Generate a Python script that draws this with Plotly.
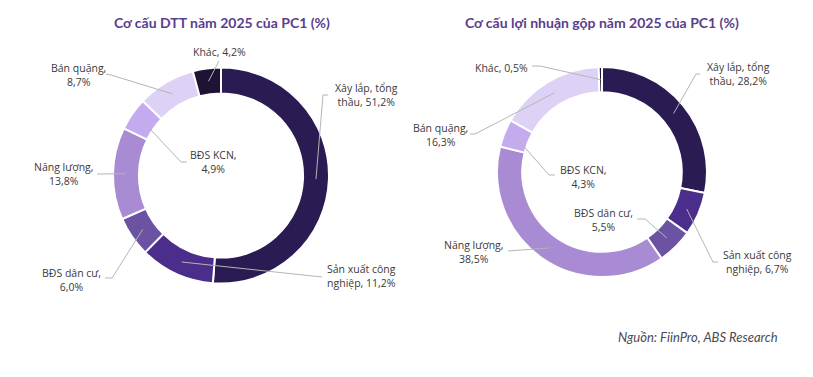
import math
import plotly.graph_objects as go

W, H = 813, 377

# ---------------- data ----------------
categories = ["Xây lắp, tổng thầu", "Sản xuất công nghiệp", "BĐS dân cư",
              "Năng lượng", "BĐS KCN", "Bán quặng", "Khác"]
revenue_share = [51.2, 11.2, 6.0, 13.8, 4.9, 8.7, 4.2]
gross_profit_share = [28.2, 6.7, 5.5, 38.5, 4.3, 16.3, 0.5]

titles = ["Cơ cấu DTT năm 2025 của PC1 (%)",
          "Cơ cấu lợi nhuận gộp năm 2025 của PC1 (%)"]
source_text = "Nguồn: FiinPro, ABS Research"

# where each label's first line ends (layout of wrapped text)
wrap_head = {"Xây lắp, tổng thầu": "Xây lắp, tổng",
             "Sản xuất công nghiệp": "Sản xuất công"}

colors = ["#2a1b52", "#4b2d8b", "#6c52a3", "#a88bd2", "#c4abef", "#ddd2f5", "#1e1235"]

# ---------------- layout (pixels) ----------------
charts = [
    dict(cx=221, cy=175.5, R=108, hole=0.76,
         values=revenue_share, title_xy=(222, 23),
         # label text centre, elbow point, tail point
         labels=[((366, 95), (323, 95), (328, 95)),
                 ((361, 276), (322, 277), (322, 277)),
                 ((71, 280), (112, 278), (105, 278)),
                 ((64, 174), (97, 174), (97, 174)),
                 ((213, 162), (181, 162), (187, 162)),
                 ((78, 75), (111, 75), (106, 74)),
                 ((219, 52), (219, 61), (219, 61))]),
    dict(cx=602, cy=172, R=105, hole=0.76,
         values=gross_profit_share, title_xy=(602, 23),
         labels=[((738, 74), (696, 74), (700, 74)),
                 ((757, 262), (713, 262), (718, 262)),
                 ((603, 220), (645, 219), (637, 219)),
                 ((474, 252), (508, 251), (508, 251)),
                 ((583, 177), (549, 175), (555, 175)),
                 ((440, 135), (475, 134), (470, 134)),
                 ((502, 68), (540, 66), (532, 66))]),
]


def px(x):
    return x / W


def py(y):
    return 1 - y / H


def fmt(v):
    return f"{v:.1f}".replace(".", ",") + "%"


def label_text(name, v):
    if name in wrap_head:
        head = wrap_head[name]
        rest = name[len(head):].strip()
        return f"{head}<br>{rest}, {fmt(v)}"
    if name == "Khác":
        return f"{name}, {fmt(v)}"
    return f"{name},<br>{fmt(v)}"


fig = go.Figure()
annotations = []
shapes = []

for i, ch in enumerate(charts):
    cx, cy, R = ch["cx"], ch["cy"], ch["R"]
    fig.add_trace(go.Pie(
        labels=categories, values=ch["values"], hole=ch["hole"],
        sort=False, direction="clockwise", rotation=0,
        marker=dict(colors=colors, line=dict(color="white", width=2)),
        textinfo="none", hoverinfo="label+percent", showlegend=False,
        domain=dict(x=[px(cx - R), px(cx + R)], y=[py(cy + R), py(cy - R)]),
    ))
    tx, ty = ch["title_xy"]
    annotations.append(dict(
        x=px(tx), y=py(ty), xref="paper", yref="paper", showarrow=False,
        text=f"<b>{titles[i]}</b>", xanchor="center", yanchor="middle",
        font=dict(family="Lato", size=14, color="#5a3d8e")))

    total = sum(ch["values"])
    cum = 0.0
    rmid = R * (1 + ch["hole"]) / 2
    for name, v, (tpos, elbow, tail) in zip(categories, ch["values"], ch["labels"]):
        mid = (cum + v / 2) / total * 2 * math.pi
        cum += v
        sx = cx + rmid * math.sin(mid)
        sy = cy - rmid * math.cos(mid)
        path = f"M {px(sx)} {py(sy)} L {px(elbow[0])} {py(elbow[1])} L {px(tail[0])} {py(tail[1])}"
        shapes.append(dict(type="path", path=path, xref="paper", yref="paper",
                           line=dict(color="#b5b5b5", width=1)))
        annotations.append(dict(
            x=px(tpos[0]), y=py(tpos[1]), xref="paper", yref="paper", showarrow=False,
            text=label_text(name, v), xanchor="center", yanchor="middle", align="center",
            font=dict(family="Open Sans", size=10.5, color="#3a3a3a")))

annotations.append(dict(
    x=px(780), y=py(337), xref="paper", yref="paper", showarrow=False,
    text=f"<i>{source_text}</i>", xanchor="right", yanchor="middle",
    font=dict(family="Lato", size=13, color="#4a4a55")))

fig.update_layout(
    width=W, height=H, margin=dict(l=0, r=0, t=0, b=0),
    paper_bgcolor="white", plot_bgcolor="white",
    annotations=annotations, shapes=shapes,
)

fig.write_html("out.html", config={"displayModeBar": False},
               post_script="document.body.style.margin='0';document.body.style.overflow='hidden';")
